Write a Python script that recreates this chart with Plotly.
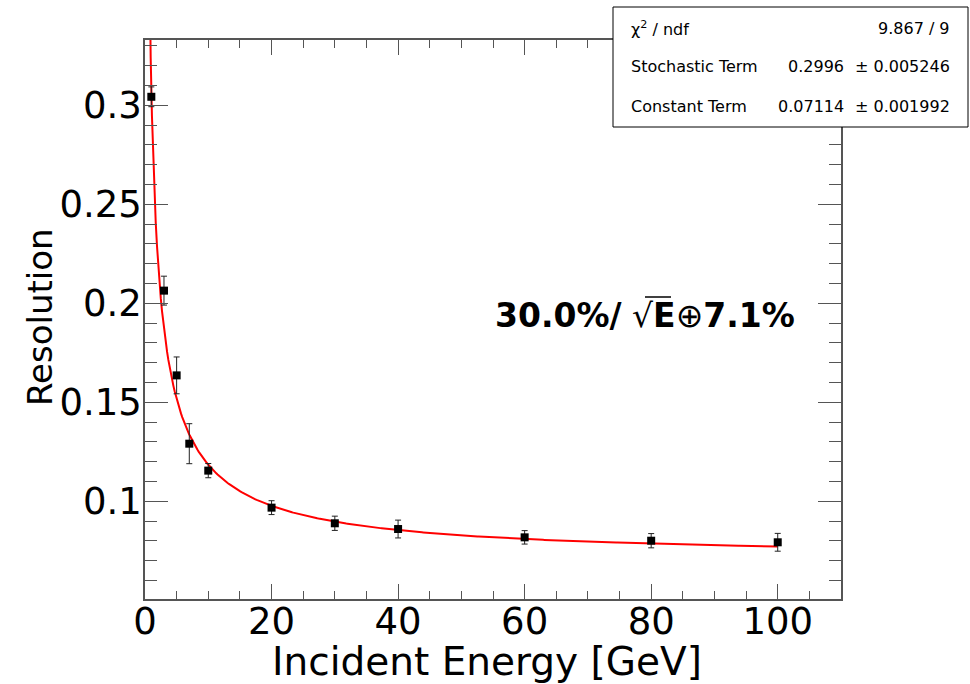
import numpy as np
import plotly.graph_objects as go

# Measured energy resolution vs. beam energy
energy = [1, 3, 5, 7, 10, 20, 30, 40, 60, 80, 100]
resolution = [0.3043, 0.2064, 0.1636, 0.1291, 0.1155, 0.0968, 0.0889, 0.0860, 0.0818, 0.0801, 0.0793]
resolution_err = [0.0050, 0.0073, 0.0093, 0.0101, 0.0036, 0.0035, 0.0036, 0.0045, 0.0034, 0.0036, 0.0045]

# Fit results: sigma/E = a/sqrt(E) (+) b
stoch_term, stoch_err = 0.2996, 0.005246
const_term, const_err = 0.07114, 0.001992
chi2, ndf = 9.867, 9

x_range = [0, 110]
y_range = [0.05066, 0.33298]

fit_e = np.linspace(0.5, 100, 500)
fit_r = np.sqrt((stoch_term / np.sqrt(fit_e)) ** 2 + const_term ** 2)

W, H = 970, 684
PL, PR, PT, PB = 145, 841, 40, 599


def px(x):
    return (x - PL) / (PR - PL)


def py(y):
    return (PB - y) / (PB - PT)


FONT = "DejaVu Sans"
AXC = "#555555"

fig = go.Figure()
fig.add_trace(go.Scatter(
    x=fit_e, y=fit_r, mode="lines",
    line=dict(color="#ff0000", width=2), showlegend=False, hoverinfo="skip",
))
fig.add_trace(go.Scatter(
    x=energy, y=resolution, mode="markers",
    marker=dict(symbol="square", size=8, color="black"),
    error_y=dict(type="data", array=resolution_err, color="#222222", thickness=1, width=3),
    showlegend=False,
))

axis_common = dict(
    showgrid=False, zeroline=False, showline=True, linecolor=AXC, linewidth=1.5,
    mirror="allticks", ticks="inside", tickcolor=AXC, tickwidth=1, automargin=False,
    tickfont=dict(family=FONT, size=37, color="black"),
)
fig.update_xaxes(
    range=x_range, tick0=0, dtick=20, ticklen=15, ticklabelstandoff=-11,
    minor=dict(dtick=5, ticks="inside", ticklen=8, tickcolor=AXC, tickwidth=1),
    **axis_common,
)
fig.update_yaxes(
    range=y_range, tick0=0, dtick=0.05, ticklen=23, tickformat=".2~f", ticklabelstandoff=-6,
    minor=dict(dtick=0.01, ticks="inside", ticklen=12, tickcolor=AXC, tickwidth=1),
    **axis_common,
)

annotations = [
    dict(text="Incident Energy [GeV]", x=px(487), y=py(661), xref="paper", yref="paper",
         xanchor="center", yanchor="middle", showarrow=False,
         font=dict(family=FONT, size=39, color="black")),
    dict(text="Resolution", x=px(40), y=py(317), xref="paper", yref="paper",
         xanchor="center", yanchor="middle", textangle=-90, showarrow=False,
         font=dict(family=FONT, size=34, color="black")),
    dict(text="<b>30.0%/</b> √<b>E</b>⊕<b>7.1%</b>", x=px(493), y=py(315),
         xref="paper", yref="paper", xanchor="left", yanchor="middle", showarrow=False,
         font=dict(family=FONT, size=33, color="black")),
]

stats_font = dict(family=FONT, size=16, color="black")
rows = [
    ("χ<sup>2</sup> / ndf", None, f"{chi2:.3f} / {ndf}", 28),
    ("Stochastic Term", f"{stoch_term:.4f}", f"± {stoch_err:.6f}", 67),
    ("Constant Term", f"{const_term:.5f}", f"± {const_err:.6f}", 106),
]
for label, val, err, yy in rows:
    annotations.append(dict(text=label, x=px(629), y=py(yy), xref="paper", yref="paper",
                            xanchor="left", yanchor="middle", showarrow=False, font=stats_font))
    if val is not None:
        annotations.append(dict(text=val, x=px(846), y=py(yy), xref="paper", yref="paper",
                                xanchor="right", yanchor="middle", showarrow=False, font=stats_font))
    annotations.append(dict(text=err, x=px(952), y=py(yy), xref="paper", yref="paper",
                            xanchor="right", yanchor="middle", showarrow=False, font=stats_font))

shapes = [
    # stats box
    dict(type="rect", xref="paper", yref="paper",
         x0=px(613), x1=px(968), y0=py(127), y1=py(7),
         line=dict(color="black", width=1), fillcolor="white", layer="above"),
    # radical overbar above E
    dict(type="line", xref="paper", yref="paper",
         x0=px(645), x1=px(671), y0=py(297), y1=py(297),
         line=dict(color="black", width=1.5), layer="above"),
]

fig.update_layout(
    width=W, height=H,
    margin=dict(l=PL, r=W - PR, t=PT, b=H - PB),
    paper_bgcolor="white", plot_bgcolor="white",
    annotations=annotations,
    shapes=shapes,
)

fig.write_html("out.html")
